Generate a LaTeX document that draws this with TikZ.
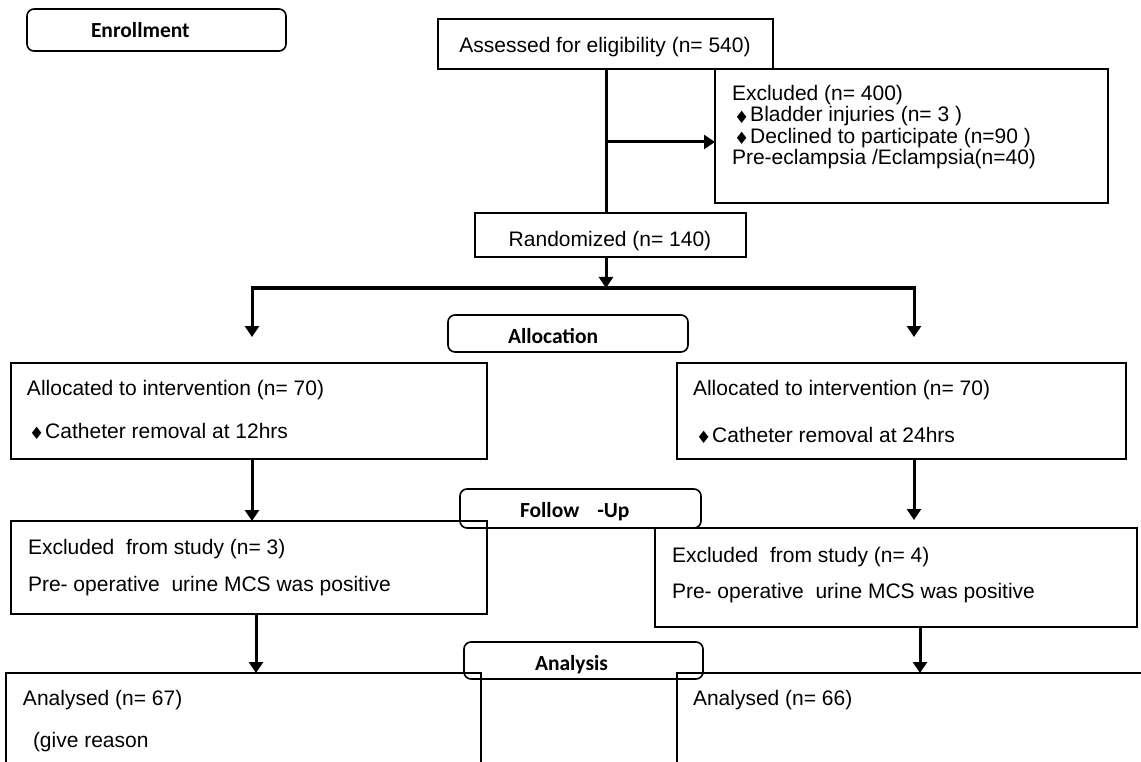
\documentclass[tikz,border=0pt]{standalone}
\usepackage{fontspec}
\setmainfont{Liberation Sans}
\newfontfamily\headfont{Carlito}
\newfontfamily\symfont{DejaVu Sans}
\usetikzlibrary{arrows.meta}
\newcommand\dmd{\raisebox{-1.5pt}{\symfont\fontsize{17}{17}\selectfont\char"2666}}
\begin{document}
\begin{tikzpicture}[x=1pt,y=-1pt,
  box/.style={draw, line width=1.5pt, inner sep=0pt, outer sep=0pt, anchor=north west},
  stage/.style={draw, line width=1.6pt, rounded corners=7pt, inner sep=0pt, outer sep=0pt, anchor=north west},
  lbl/.style={anchor=base west, inner sep=0pt, outer sep=0pt, font=\fontsize{21}{21}\selectfont},
  head/.style={anchor=base west, inner sep=0pt, outer sep=0pt, font=\headfont\bfseries\fontsize{21.5}{21.5}\selectfont},
  conn/.style={line width=3pt},
  arr/.style={line width=3pt, -{Triangle[width=14pt,length=11pt]}},
  arr2/.style={line width=3pt, {Triangle[width=14pt,length=11pt]}-{Triangle[width=14pt,length=11pt]}},
]
\useasboundingbox (0,0) rectangle (1141,762);
\begin{scope}
\clip (0,0) rectangle (1141,762);
% stage boxes
\node[stage, minimum width=259pt, minimum height=42pt] (enroll) at (27,9) {};
\node[head] (tenroll) at (91,38) {Enrollment};
% assessed
\node[box, minimum width=335pt, minimum height=50pt] (assess) at (438,19) {};
\node[lbl, anchor=base] (tassess) at (605,53) {Assessed for eligibility (n= 540)};
% excluded
\node[box, minimum width=393pt, minimum height=134pt] (excl) at (715,69) {};
\node[lbl] (e1) at (732,101) {Excluded (n= 400)};
\node[lbl] (e2) at (734,122) {\dmd\hspace{1pt}Bladder injuries (n= 3 )};
\node[lbl] (e3) at (734,143.5) {\dmd\hspace{1pt}Declined to participate (n=90 )};
\node[lbl] (e4) at (732,165) {Pre-eclampsia /Eclampsia(n=40)};
% randomized
\node[box, minimum width=271pt, minimum height=44pt] (rand) at (475,213) {};
\node[lbl, anchor=base] (trand) at (610,247) {Randomized (n= 140)};
% allocation
\node[stage, minimum width=240pt, minimum height=37pt] (alloc) at (448,315) {};
\node[head] (talloc) at (508,343) {Allocation};
\node[box, minimum width=476pt, minimum height=96pt] (lalloc) at (11,363) {};
\node[lbl] (la1) at (27,395) {Allocated to intervention (n= 70)};
\node[lbl] (la2) at (29,438) {\dmd\hspace{1pt}Catheter removal at 12hrs};
\node[box, minimum width=449pt, minimum height=96pt] (ralloc) at (677,363) {};
\node[lbl] (ra1) at (693,395) {Allocated to intervention (n= 70)};
\node[lbl] (ra2) at (696,442) {\dmd\hspace{1pt}Catheter removal at 24hrs};
% follow-up
\node[stage, minimum width=241pt, minimum height=39pt] (follow) at (460,489) {};
\node[head] (tfollow) at (520,517) {Follow\hspace{18pt}-Up};
\node[box, minimum width=476pt, minimum height=93pt] (lexcl) at (11,521) {};
\node[lbl] (lx1) at (28,554) {Excluded\ \ from study (n= 3)};
\node[lbl] (lx2) at (28,591) {Pre- operative\ \ urine MCS was positive};
\node[box, minimum width=482pt, minimum height=99pt] (rexcl) at (655,528) {};
\node[lbl] (rx1) at (672,562) {Excluded\ \ from study (n= 4)};
\node[lbl] (rx2) at (672,598) {Pre- operative\ \ urine MCS was positive};
% analysis
\node[stage, minimum width=239pt, minimum height=37pt] (analysis) at (464,642) {};
\node[head] (tanalysis) at (535,670) {Analysis};
\node[box, minimum width=475pt, minimum height=120pt] (lanal) at (6,673) {};
\node[lbl] (ln1) at (23,705) {Analysed (n= 67)};
\node[lbl] (ln2) at (33,747) {(give reason};
\node[box, minimum width=480pt, minimum height=120pt] (ranal) at (677,673) {};
\node[lbl] (rn1) at (693,705) {Analysed (n= 66)};
% connectors
\coordinate (j0) at (606,0);
\draw[conn] (assess.south -| j0) -- (rand.north -| j0);
\coordinate (j1) at (606,142);
\draw[arr] (j1) -- (j1 -| excl.west);
\coordinate (split) at (606,288);
\draw[arr] (rand.south -| j0) -- (split);
\coordinate (sl) at (252,288);
\coordinate (sr) at (914,288);
\coordinate (tl) at (252,337);
\coordinate (tr) at (914,337);
\draw[arr2] (tl) -- (sl) -- (sr) -- (tr);
\draw[arr] (lalloc.south -| sl) -- (lexcl.north -| sl);
\coordinate (rxe) at (914,520);
\draw[arr] (ralloc.south -| sr) -- (rxe);
\coordinate (c3) at (256,0);
\draw[arr] (lexcl.south -| c3) -- (lanal.north -| c3);
\coordinate (c4) at (920,0);
\draw[arr] (rexcl.south -| c4) -- (ranal.north -| c4);
\end{scope}
\end{tikzpicture}
\end{document}
